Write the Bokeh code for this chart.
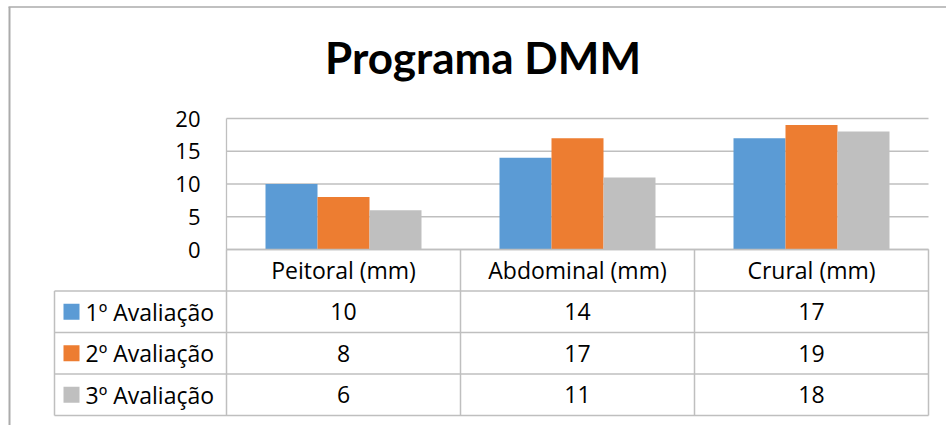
from bokeh.plotting import figure
from bokeh.models import Range1d, ColumnDataSource
from bokeh.transform import dodge
from bokeh.core.properties import value
from bokeh.embed import file_html
from bokeh.resources import INLINE

# ---- data ----
categories = ["Peitoral (mm)", "Abdominal (mm)", "Crural (mm)"]
series_names = ["1º Avaliação", "2º Avaliação", "3º Avaliação"]
aval_1 = [10, 14, 17]
aval_2 = [8, 17, 19]
aval_3 = [6, 11, 18]
y_ticks = [0, 5, 10, 15, 20]
title_text = "Programa DMM"

series_values = [aval_1, aval_2, aval_3]

# ---- styles ----
COLORS = ["#5B9BD5", "#ED7D31", "#BFBFBF"]
FONT = "Open Sans"
TITLE_FONT = "Lato"
TEXT_COLOR = "#000000"
LINE_COLOR = "#BFBFBF"
FRAME_COLOR = "#ABABAB"
TICK_SIZE = "22px"
TABLE_SIZE = "23px"

# ---- geometry (pixels) ----
W, H = 946, 425
PLOT_LEFT = 226.0       # left edge of the plot area
PLOT_BOTTOM = 249.0     # baseline (value 0) of the plot area
CAT_PX = 234.0          # width of one category column
UNIT_PX = 6.55          # pixels per value unit
ROW_PX = 41.5           # height of one table row
BAR_W = 52.0 / CAT_PX   # bar width in category units
LEG_COL_PX = 172.0      # width of the series-name column of the table

n_cat = len(categories)
n_ser = len(series_names)
y_max = y_ticks[-1]

# x in category units, y in value units; the table uses its own row scale
p = figure(
    width=W, height=H,
    x_range=Range1d(-PLOT_LEFT / CAT_PX, (W - PLOT_LEFT) / CAT_PX),
    y_range=Range1d(-(H - PLOT_BOTTOM) / UNIT_PX, PLOT_BOTTOM / UNIT_PX),
    output_backend="svg", toolbar_location=None,
    x_axis_location=None, y_axis_location=None,
    min_border=0, title=None,
)
p.extra_y_ranges = {"rows": Range1d((H - PLOT_BOTTOM) / ROW_PX, -PLOT_BOTTOM / ROW_PX)}
p.outline_line_color = None
p.xgrid.visible = False
p.ygrid.visible = False
p.background_fill_color = "white"
p.border_fill_color = "white"

def px_x(px):
    return (px - PLOT_LEFT) / CAT_PX

def px_y(px):
    return (PLOT_BOTTOM - px) / UNIT_PX

# chart area border (top and left edges)
p.segment(x0=[px_x(8)], y0=[px_y(6.5)], x1=[px_x(W)], y1=[px_y(6.5)],
          line_color=FRAME_COLOR, line_width=1.5)
p.segment(x0=[px_x(9)], y0=[px_y(6.5)], x1=[px_x(9)], y1=[px_y(H)],
          line_color=FRAME_COLOR, line_width=2)

# ---------------- bar chart ----------------
p.segment(x0=[0] * len(y_ticks), y0=y_ticks, x1=[n_cat] * len(y_ticks), y1=y_ticks,
          line_color=LINE_COLOR, line_width=1.3)
p.segment(x0=[0], y0=[y_ticks[0]], x1=[0], y1=[y_max],
          line_color=LINE_COLOR, line_width=1.3)
p.text(x=[px_x(200)] * len(y_ticks), y=y_ticks, text=[str(t) for t in y_ticks],
       text_align="right", text_baseline="middle",
       text_font=value(FONT), text_font_size=TICK_SIZE, text_color=TEXT_COLOR)

bar_src = ColumnDataSource(dict(
    x=[i + 0.5 for i in range(n_cat)],
    a1=aval_1, a2=aval_2, a3=aval_3,
))
for k, (field, color) in enumerate(zip(["a1", "a2", "a3"], COLORS)):
    offset = (k - (n_ser - 1) / 2) * BAR_W
    p.vbar(x=dodge("x", offset), top=field, bottom=0, width=BAR_W,
           source=bar_src, fill_color=color, line_color=None)

p.text(x=[px_x(482.5)], y=[px_y(56)], text=[title_text],
       text_align="center", text_baseline="middle",
       text_font=value(TITLE_FONT), text_font_style="bold", text_font_size="44px",
       text_color=TEXT_COLOR)

# ---------------- data table ----------------
leg_left = -LEG_COL_PX / CAT_PX
n_rows = n_ser + 1

hx0 = [0] + [leg_left] * n_ser + [leg_left]
hx1 = [n_cat] * (n_rows + 1)
hy = list(range(n_rows + 1))
p.segment(x0=hx0, y0=hy, x1=hx1, y1=hy, y_range_name="rows",
          line_color=LINE_COLOR, line_width=1.5)

vx = [leg_left] + list(range(n_cat + 1))
vy0 = [1] + [0] * (n_cat + 1)
vy1 = [n_rows] * (n_cat + 2)
p.segment(x0=vx, y0=vy0, x1=vx, y1=vy1, y_range_name="rows",
          line_color=LINE_COLOR, line_width=1.5)

# header: category names
p.text(x=[i + 0.5 for i in range(n_cat)], y=[0.5] * n_cat, text=categories,
       y_range_name="rows", text_align="center", text_baseline="middle",
       text_font=value(FONT), text_font_size=TABLE_SIZE, text_color=TEXT_COLOR)

# series rows: legend key, name and values
rows_y = [r + 1.5 for r in range(n_ser)]
p.scatter(x=[leg_left + 17 / CAT_PX] * n_ser, y=rows_y, y_range_name="rows",
          marker="square", size=16, fill_color=COLORS, line_color=None)
p.text(x=[leg_left + 31 / CAT_PX] * n_ser, y=rows_y, text=series_names,
       y_range_name="rows", text_align="left", text_baseline="middle",
       text_font=value(FONT), text_font_size=TABLE_SIZE, text_color=TEXT_COLOR)

cell_x, cell_y, cell_t = [], [], []
for r, vals in enumerate(series_values):
    for i, v in enumerate(vals):
        cell_x.append(i + 0.5)
        cell_y.append(r + 1.5)
        cell_t.append(str(v))
p.text(x=cell_x, y=cell_y, text=cell_t, y_range_name="rows",
       text_align="center", text_baseline="middle",
       text_font=value(FONT), text_font_size=TABLE_SIZE, text_color=TEXT_COLOR)

with open("out.html", "w") as f:
    f.write(file_html(p, INLINE, title=title_text))
